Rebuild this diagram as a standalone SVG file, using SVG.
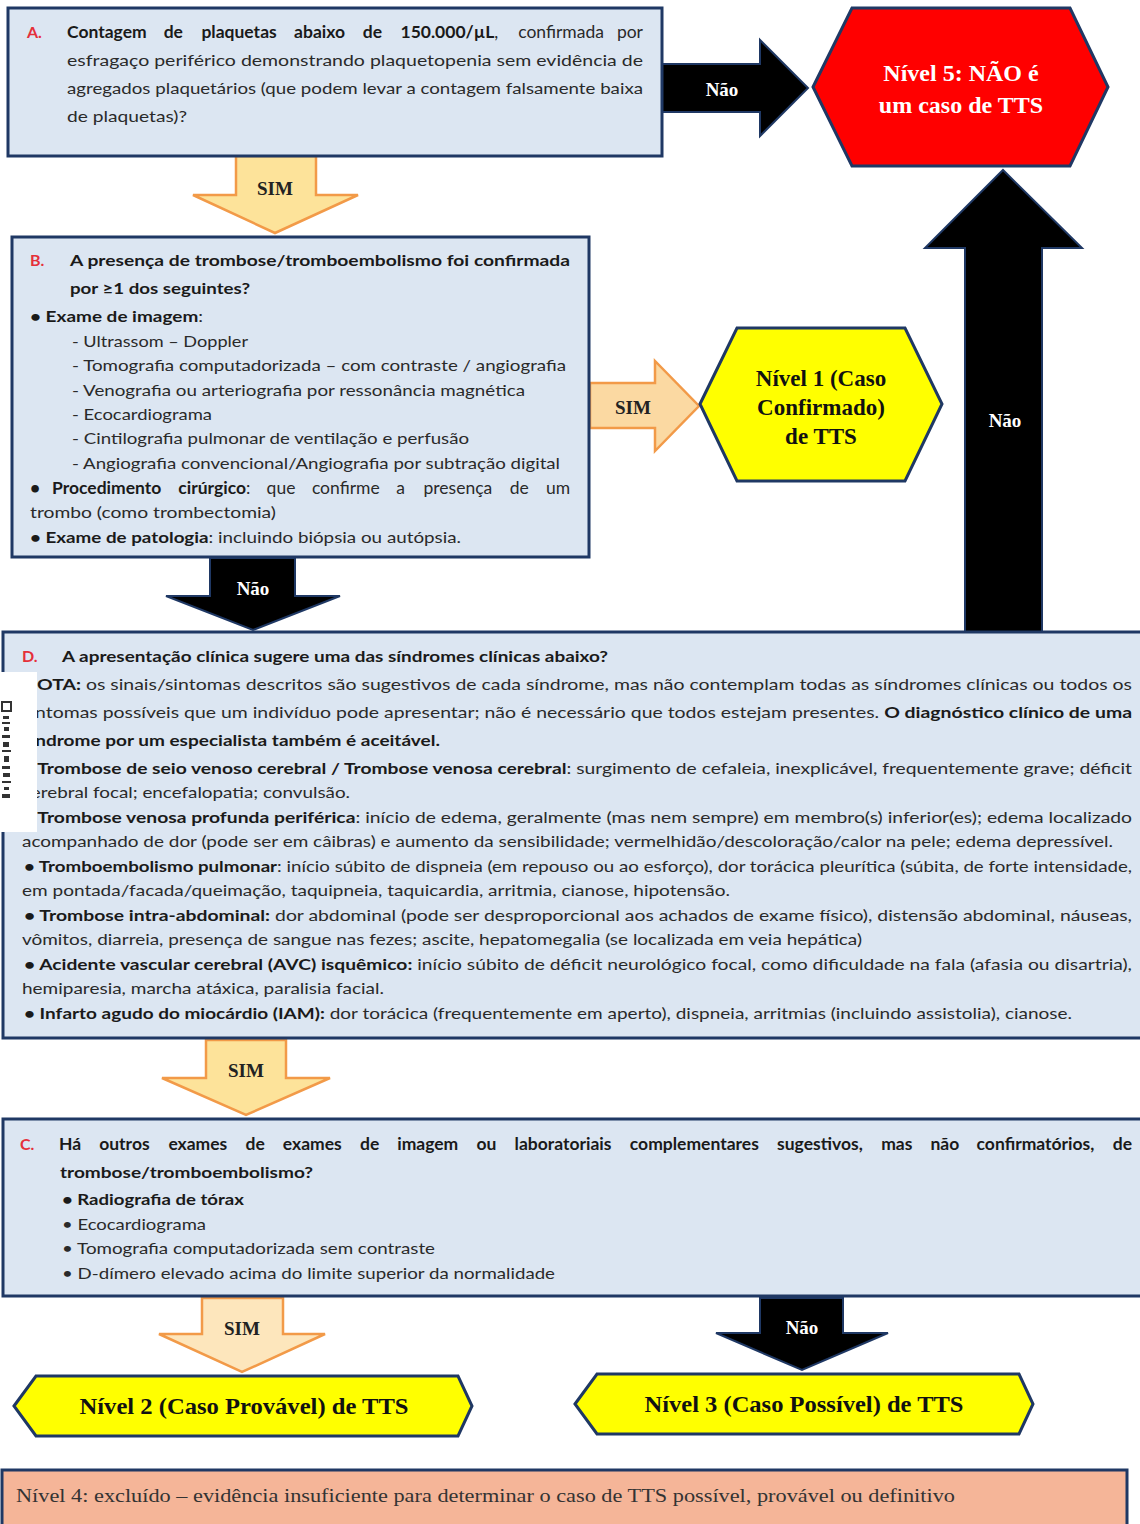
<svg xmlns="http://www.w3.org/2000/svg" width="1140" height="1524" viewBox="0 0 1140 1524">
<style>
.box{fill:#dce6f2;stroke:#1f3864;stroke-width:3}
.t{font-family:Lato,"Liberation Sans",sans-serif;font-size:16px;fill:#2a2a2a}
.w{font-size:17.5px}
.b{font-weight:bold;fill:#1a1a1a}
.red{font-family:Lato,"Liberation Sans",sans-serif;font-size:16px;font-weight:bold;fill:#e5303a}
.lbl{font-family:"Liberation Serif","Times New Roman",serif;font-weight:bold;font-size:19px;text-anchor:middle;fill:#222}
.lblw{font-family:"Liberation Serif","Times New Roman",serif;font-weight:bold;font-size:19px;text-anchor:middle;fill:#fff}
.hx{font-family:"Liberation Serif","Times New Roman",serif;font-weight:bold;font-size:23px;text-anchor:middle;fill:#111}
.sim{fill:#fde39a;stroke:#f29a48;stroke-width:2.5}
.nao{fill:#000;stroke:#1f3864;stroke-width:2}
</style>

<g id="connectors">
<polygon class="nao" points="662,64 760,64 760,40 808,88 760,136 760,112 662,112"/>
<text class="lblw" x="722" y="96">Não</text>
<polygon class="sim" points="236,156 316,156 316,195 358,195 275,233 193,195 236,195"/>
<text class="lbl" x="275" y="195">SIM</text>
<polygon class="sim" style="fill:#fbd9a2" points="590,383 655,383 655,361 699,406 655,451 655,428 590,428"/>
<text class="lbl" x="633" y="414">SIM</text>
<polygon class="nao" points="965,634 965,248 925,248 1003,170 1082,248 1042,248 1042,634"/>
<text class="lblw" x="1005" y="427">Não</text>
<polygon class="nao" points="210,558 295,558 295,596 340,596 253,630 166,596 210,596"/>
<text class="lblw" x="253" y="595">Não</text>
<polygon class="sim" points="206,1040 286,1040 286,1078 330,1078 246,1115 162,1078 206,1078"/>
<text class="lbl" x="246" y="1077">SIM</text>
<polygon class="sim" style="fill:#fde6bc" points="202,1298 283,1298 283,1334 325,1334 242,1372 159,1334 202,1334"/>
<text class="lbl" x="242" y="1335">SIM</text>
<polygon class="nao" points="760,1298 843,1298 843,1333 888,1333 802,1370 716,1333 760,1333"/>
<text class="lblw" x="802" y="1334">Não</text>
</g>

<g id="nodeA">
<rect class="box" x="8" y="8" width="654" height="148"/>
<text class="red" x="27" y="38">A.</text>
<text class="t w" y="38"><tspan class="b" x="67">Contagem</tspan><tspan class="b" x="163.7">de</tspan><tspan class="b" x="201.4">plaquetas</tspan><tspan class="b" x="294.1">abaixo</tspan><tspan class="b" x="362.8">de</tspan><tspan class="b" x="400.5">150.000/µL</tspan>,<tspan x="518.2">confirmada</tspan><tspan x="616.9">por</tspan></text>
<text class="t" x="67" y="66" textLength="576" lengthAdjust="spacingAndGlyphs">esfragaço periférico demonstrando plaquetopenia sem evidência de</text>
<text class="t" x="67" y="94" textLength="576" lengthAdjust="spacingAndGlyphs">agregados plaquetários (que podem levar a contagem falsamente baixa</text>
<text class="t" x="67" y="122" textLength="120" lengthAdjust="spacingAndGlyphs">de plaquetas)?</text>
</g>

<g id="nodeN5">
<polygon points="813,87 852,8 1070,8 1108,87 1070,166 852,166" fill="#ff0000" stroke="#1f3864" stroke-width="3"/>
<text class="hx" x="961" y="81" style="fill:#fff;font-size:24px">Nível 5: NÃO é</text>
<text class="hx" x="961" y="113" style="fill:#fff;font-size:24px">um caso de TTS</text>
</g>

<g id="nodeB">
<rect class="box" x="12" y="237" width="577" height="320"/>
<text class="red" x="30" y="266">B.</text>
<text class="t b" x="70" y="266" textLength="500" lengthAdjust="spacingAndGlyphs">A presença de trombose/tromboembolismo foi confirmada</text>
<text class="t b" x="70" y="294" textLength="180" lengthAdjust="spacingAndGlyphs">por ≥1 dos seguintes?</text>
<text class="t" x="30" y="322" textLength="173" lengthAdjust="spacingAndGlyphs"><tspan class="b">• Exame de imagem</tspan>:</text>
<text class="t" x="72" y="347" textLength="176" lengthAdjust="spacingAndGlyphs">- Ultrassom – Doppler</text>
<text class="t" x="72" y="371" textLength="494" lengthAdjust="spacingAndGlyphs">- Tomografia computadorizada – com contraste / angiografia</text>
<text class="t" x="72" y="396" textLength="453" lengthAdjust="spacingAndGlyphs">- Venografia ou arteriografia por ressonância magnética</text>
<text class="t" x="72" y="420" textLength="140" lengthAdjust="spacingAndGlyphs">- Ecocardiograma</text>
<text class="t" x="72" y="444" textLength="397" lengthAdjust="spacingAndGlyphs">- Cintilografia pulmonar de ventilação e perfusão</text>
<text class="t" x="72" y="469" textLength="488" lengthAdjust="spacingAndGlyphs">- Angiografia convencional/Angiografia por subtração digital</text>
<text class="t w" y="494"><tspan class="b" x="30">•</tspan><tspan class="b" x="52">Procedimento</tspan><tspan class="b" x="178.3">cirúrgico</tspan>:<tspan x="266.6">que</tspan><tspan x="311.9">confirme</tspan><tspan x="396.2">a</tspan><tspan x="423.5">presença</tspan><tspan x="509.8">de</tspan><tspan x="546.1">um</tspan></text>
<text class="t" x="30" y="518" textLength="246" lengthAdjust="spacingAndGlyphs">trombo (como trombectomia)</text>
<text class="t" x="30" y="543" textLength="431" lengthAdjust="spacingAndGlyphs"><tspan class="b">• Exame de patologia</tspan>: incluindo biópsia ou autópsia.</text>
</g>

<g id="nodeN1">
<polygon points="700,404 737,328 905,328 942,404 905,481 737,481" fill="#ffff00" stroke="#1f3864" stroke-width="3"/>
<text class="hx" x="821" y="386">Nível 1 (Caso</text>
<text class="hx" x="821" y="415">Confirmado)</text>
<text class="hx" x="821" y="444">de TTS</text>
</g>

<g id="nodeD">
<rect class="box" x="3" y="632" width="1140" height="406"/>
<text class="red" x="22" y="662">D.</text>
<text class="t b" x="62" y="662" textLength="546" lengthAdjust="spacingAndGlyphs">A apresentação clínica sugere uma das síndromes clínicas abaixo?</text>
<text class="t" x="22" y="690" textLength="1110" lengthAdjust="spacingAndGlyphs"><tspan class="b">NOTA:</tspan> os sinais/sintomas descritos são sugestivos de cada síndrome, mas não contemplam todas as síndromes clínicas ou todos os</text>
<text class="t" x="22" y="718" textLength="1110" lengthAdjust="spacingAndGlyphs">sintomas possíveis que um indivíduo pode apresentar; não é necessário que todos estejam presentes. <tspan class="b">O diagnóstico clínico de uma</tspan></text>
<text class="t b" x="22" y="746" textLength="418" lengthAdjust="spacingAndGlyphs">síndrome por um especialista também é aceitável.</text>
<text class="t" x="22" y="774" textLength="1110" lengthAdjust="spacingAndGlyphs"><tspan class="b">• Trombose de seio venoso cerebral / Trombose venosa cerebral</tspan>: surgimento de cefaleia, inexplicável, frequentemente grave; déficit</text>
<text class="t" x="22" y="798" textLength="328" lengthAdjust="spacingAndGlyphs">cerebral focal; encefalopatia; convulsão.</text>
<text class="t" x="22" y="823" textLength="1110" lengthAdjust="spacingAndGlyphs"><tspan class="b">• Trombose venosa profunda periférica</tspan>: início de edema, geralmente (mas nem sempre) em membro(s) inferior(es); edema localizado</text>
<text class="t" x="22" y="847" textLength="1091" lengthAdjust="spacingAndGlyphs">acompanhado de dor (pode ser em câibras) e aumento da sensibilidade; vermelhidão/descoloração/calor na pele; edema depressível.</text>
<text class="t" x="24" y="872" textLength="1108" lengthAdjust="spacingAndGlyphs"><tspan class="b">• Tromboembolismo pulmonar</tspan>: início súbito de dispneia (em repouso ou ao esforço), dor torácica pleurítica (súbita, de forte intensidade,</text>
<text class="t" x="22" y="896" textLength="708" lengthAdjust="spacingAndGlyphs">em pontada/facada/queimação, taquipneia, taquicardia, arritmia, cianose, hipotensão.</text>
<text class="t" x="24" y="921" textLength="1108" lengthAdjust="spacingAndGlyphs"><tspan class="b">• Trombose intra-abdominal:</tspan> dor abdominal (pode ser desproporcional aos achados de exame físico), distensão abdominal, náuseas,</text>
<text class="t" x="22" y="945" textLength="840" lengthAdjust="spacingAndGlyphs">vômitos, diarreia, presença de sangue nas fezes; ascite, hepatomegalia (se localizada em veia hepática)</text>
<text class="t" x="24" y="970" textLength="1108" lengthAdjust="spacingAndGlyphs"><tspan class="b">• Acidente vascular cerebral (AVC) isquêmico:</tspan> início súbito de déficit neurológico focal, como dificuldade na fala (afasia ou disartria),</text>
<text class="t" x="22" y="994" textLength="362" lengthAdjust="spacingAndGlyphs">hemiparesia, marcha atáxica, paralisia facial.</text>
<text class="t" x="24" y="1019" textLength="1048" lengthAdjust="spacingAndGlyphs"><tspan class="b">• Infarto agudo do miocárdio (IAM):</tspan> dor torácica (frequentemente em aperto), dispneia, arritmias (incluindo assistolia), cianose.</text>
<rect x="0" y="672" width="37" height="160" fill="#ffffff"/>
<g fill="#333">
<rect x="2" y="702" width="9" height="9" fill="none" stroke="#333" stroke-width="2"/>
<rect x="3" y="716" width="6" height="3"/><rect x="2" y="722" width="8" height="2"/><rect x="4" y="727" width="5" height="4"/>
<rect x="2" y="735" width="8" height="3"/><rect x="3" y="742" width="6" height="5"/><rect x="2" y="750" width="9" height="2"/>
<rect x="4" y="756" width="5" height="6"/><rect x="2" y="766" width="8" height="3"/><rect x="3" y="773" width="7" height="4"/>
<rect x="2" y="781" width="9" height="2"/><rect x="4" y="787" width="5" height="3"/><rect x="2" y="794" width="8" height="4"/>
</g>
</g>

<g id="nodeC">
<rect class="box" x="3" y="1119" width="1140" height="177"/>
<text class="red" x="20" y="1150">C.</text>
<text class="t b w" y="1150"><tspan x="59">Há</tspan><tspan x="99.2">outros</tspan><tspan x="168.4">exames</tspan><tspan x="245.6">de</tspan><tspan x="282.8">exames</tspan><tspan x="360">de</tspan><tspan x="397.2">imagem</tspan><tspan x="476.4">ou</tspan><tspan x="514.6">laboratoriais</tspan><tspan x="629.8">complementares</tspan><tspan x="777">sugestivos,</tspan><tspan x="881.2">mas</tspan><tspan x="930.4">não</tspan><tspan x="976.6">confirmatórios,</tspan><tspan x="1112.8">de</tspan></text>
<text class="t b" x="60" y="1178" textLength="253" lengthAdjust="spacingAndGlyphs">trombose/tromboembolismo?</text>
<text class="t b" x="62" y="1205" textLength="182" lengthAdjust="spacingAndGlyphs">• Radiografia de tórax</text>
<text class="t" x="62" y="1230" textLength="144" lengthAdjust="spacingAndGlyphs">• Ecocardiograma</text>
<text class="t" x="62" y="1254" textLength="373" lengthAdjust="spacingAndGlyphs">• Tomografia computadorizada sem contraste</text>
<text class="t" x="62" y="1279" textLength="493" lengthAdjust="spacingAndGlyphs">• D-dímero elevado acima do limite superior da normalidade</text>
</g>

<g id="nodeN2">
<polygon points="14,1406 36,1376 458,1376 472,1406 458,1436 36,1436" fill="#ffff00" stroke="#1f3864" stroke-width="3"/>
<text class="hx" x="244" y="1414" textLength="329" lengthAdjust="spacingAndGlyphs">Nível 2 (Caso Provável) de TTS</text>
</g>

<g id="nodeN3">
<polygon points="575,1404 597,1374 1019,1374 1033,1404 1019,1434 597,1434" fill="#ffff00" stroke="#1f3864" stroke-width="3"/>
<text class="hx" x="804" y="1412" textLength="319" lengthAdjust="spacingAndGlyphs">Nível 3 (Caso Possível) de TTS</text>
</g>

<g id="nodeN4">
<rect x="2" y="1470" width="1125" height="60" fill="#f5b598" stroke="#1f3864" stroke-width="3"/>
<text x="16" y="1502" font-family="Liberation Serif, Times New Roman, serif" font-size="19" fill="#333" textLength="939" lengthAdjust="spacingAndGlyphs">Nível 4: excluído – evidência insuficiente para determinar o caso de TTS possível, provável ou definitivo</text>
</g>
</svg>
